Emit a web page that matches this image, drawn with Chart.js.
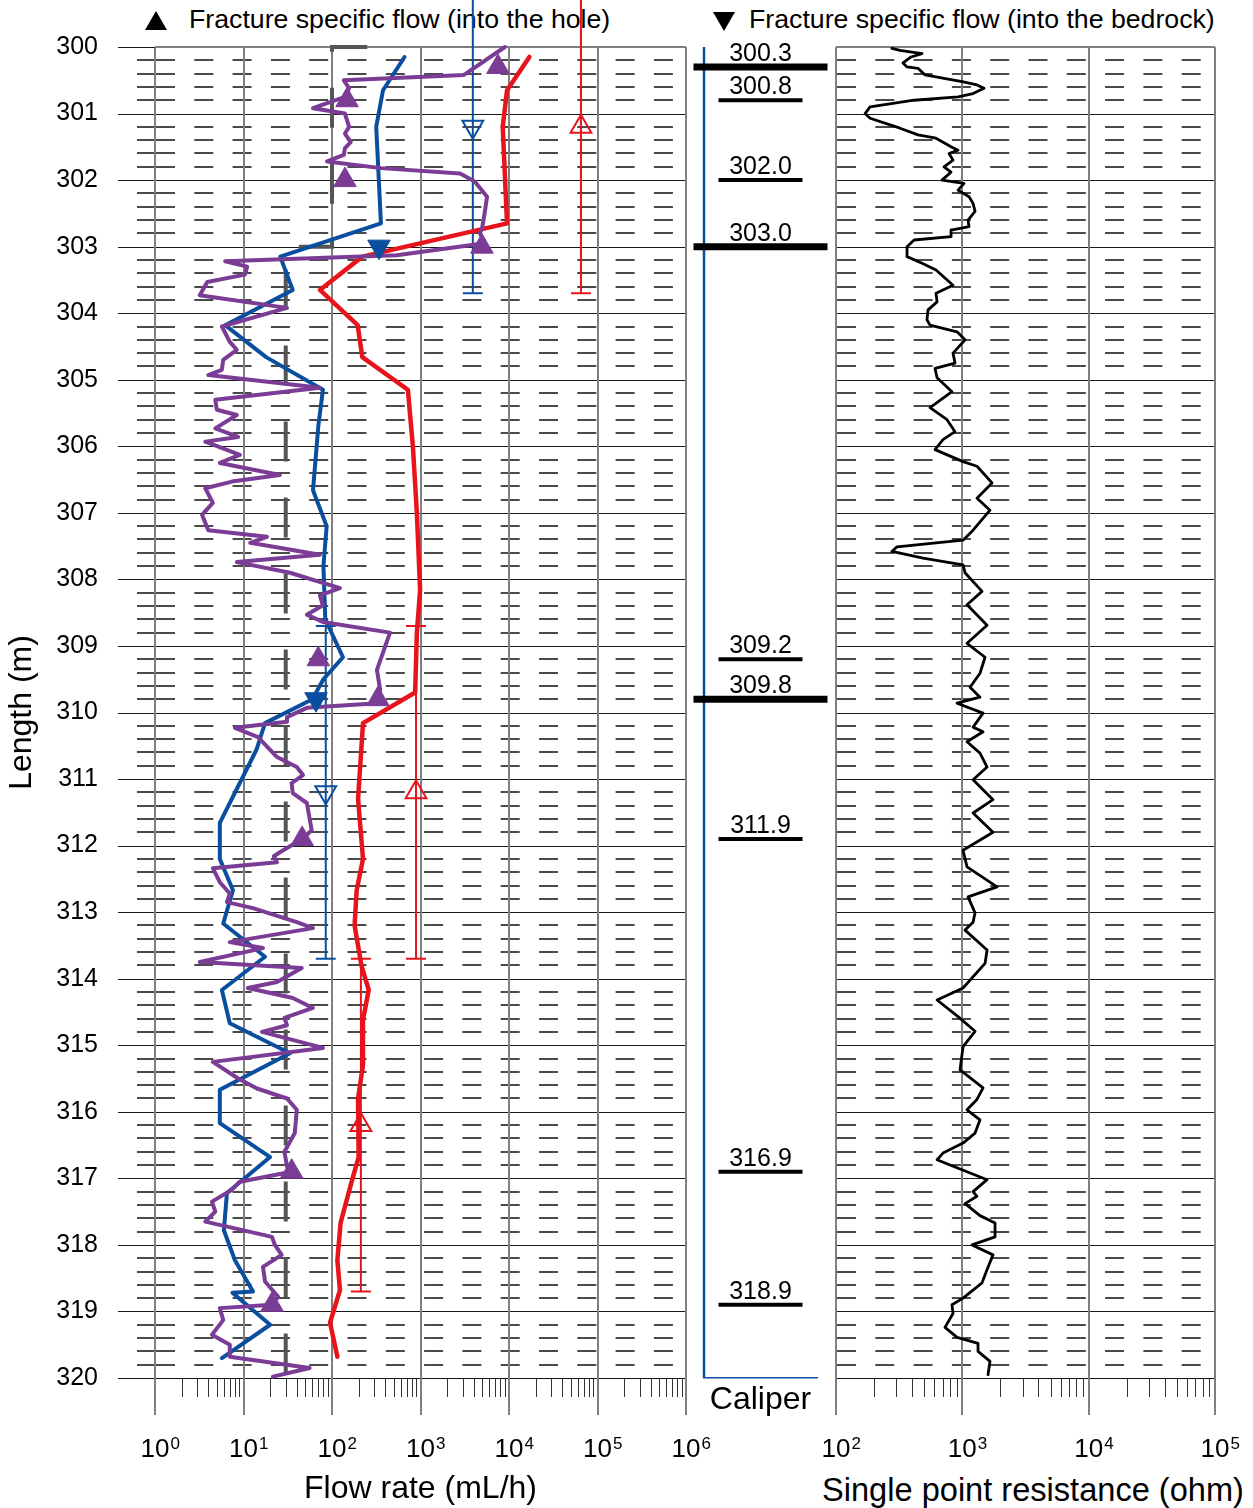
<!DOCTYPE html>
<html>
<head>
<meta charset="utf-8">
<script src="https://cdn.jsdelivr.net/npm/chart.js@4.4.1/dist/chart.umd.min.js"></script>
<style>
  body { margin: 0; background: #fff; font-family: "Liberation Sans", Arial, sans-serif; }
  #page { position: relative; width: 1253px; height: 1508px; overflow: hidden; background: #fff; }
  #page canvas { position: absolute; left: 0; top: 0; }
  .key { position: absolute; top: 3px; font-size: 26.7px; line-height: 32px; color: #000; white-space: nowrap; }
  .axisTitle { position: absolute; font-size: 32.6px; line-height: 38px; color: #000; white-space: nowrap; text-align: center; }
  .tri { position: absolute; width: 0; height: 0; border-left: 11px solid transparent; border-right: 11px solid transparent; }
  .up { border-bottom: 19px solid #000; }
  .down { border-top: 19px solid #000; }
</style>
</head>
<body>
<div id="page">
  <div class="tri up" style="left:145px; top:11px;"></div>
  <div class="key" style="left:189px;">Fracture specific flow (into the hole)</div>
  <div class="tri down" style="left:713px; top:12px;"></div>
  <div class="key" style="left:749px;">Fracture specific flow (into the bedrock)</div>
  <div class="axisTitle" style="left:813px; width:440px; top:1471px;">Single point resistance (ohm)</div>
  <canvas id="flowChart" width="1253" height="1508"></canvas>
  <canvas id="caliperChart" width="1253" height="1508"></canvas>
  <canvas id="sprChart" width="1253" height="1508"></canvas>
</div>
<script>
Chart.defaults.font.family = '"Liberation Sans", Arial, sans-serif';
Chart.defaults.color = '#000';

var depthMin = 300, depthMax = 320;

// flow rate, red line (mL/h)
var redDepth = [300.15, 300.65, 301.2, 302.65, 303.15, 303.65, 304.18, 304.66, 305.15, 306.0, 307.0, 308.16, 308.8, 309.7,
  310.16, 311.3, 312.2, 312.67, 313.2, 313.8, 314.17, 314.62, 315.3, 315.8, 316.68, 317.07, 317.67, 318.23, 318.68, 319.17, 319.68];
var redFlow = [17000, 9500, 8500, 9500, 220, 73, 195, 220, 720, 820, 910, 990, 910, 870,
  224, 197, 224, 190, 180, 215, 260, 224, 224, 197, 200, 165, 125, 115, 123, 95, 115];

// flow rate, blue line (mL/h)
var blueDepth = [300.15, 300.65, 301.2, 302.65, 303.15, 303.65, 304.18, 304.66, 305.15, 305.7, 306.66, 307.2, 307.8, 308.6,
  309.17, 309.5, 309.8, 310.16, 310.56, 311.66, 312.2, 312.67, 313.17, 313.67, 314.17, 314.67, 315.12, 315.67, 316.17,
  316.68, 317.22, 317.78, 318.23, 318.7, 318.72, 319.2, 319.7];
var blueFlow = [660, 377, 316, 357, 26, 36, 6.2, 18, 79, 70, 61, 87, 80, 84,
  133, 80, 60, 17.5, 14, 5.4, 5.4, 7.6, 5.9, 17.5, 5.7, 7, 33.5, 5.4, 5.4,
  20, 6.5, 6, 8, 12.8, 7.5, 20, 5.7];

// flow rate, purple line (mL/h)
var purpleDepth = [300.0, 300.42, 300.5, 300.62, 300.75, 300.92, 301.0, 301.2, 301.3, 301.43, 301.52, 301.62, 301.72, 301.82,
  301.9, 302.02, 302.25, 302.5, 302.7, 302.8, 302.95, 303.13, 303.22, 303.3, 303.42, 303.53, 303.73, 303.92, 304.2,
  304.43, 304.55, 304.7, 304.85, 304.93, 305.12, 305.3, 305.45, 305.53, 305.73, 305.86, 305.93, 306.13, 306.25, 306.43,
  306.53, 306.63, 306.85, 307.03, 307.26, 307.36, 307.45, 307.63, 307.74, 307.9, 308.13, 308.24, 308.39, 308.53, 308.64,
  308.8, 309.1, 309.36, 309.66, 309.86, 309.93, 310.07, 310.14, 310.23, 310.37, 310.67, 310.82, 310.94, 311.06, 311.21,
  311.36, 311.77, 311.9, 312.1, 312.16, 312.25, 312.34, 312.55, 312.72, 312.85, 312.94, 313.15, 313.24, 313.45, 313.54,
  313.75, 313.84, 314.05, 314.14, 314.29, 314.44, 314.59, 314.7, 314.8, 315.04, 315.25, 315.5, 315.65, 315.8, 315.97,
  316.32, 316.6, 316.82, 316.9, 317.05, 317.17, 317.35, 317.5, 317.65, 317.88, 318.0, 318.15, 318.33, 318.55, 318.78,
  318.9, 318.95, 319.13, 319.35, 319.5, 319.68, 319.85, 319.98];
var purpleFlow = [9000, 3100, 136, 156, 140, 61, 140, 156, 140, 163, 140, 136, 88, 357,
  2800, 4100, 5650, 5300, 5000, 4700, 5300, 540, 6.2, 11, 10.4, 3.9, 3.2, 31, 5.7,
  7, 8.4, 5.9, 5.7, 4, 73, 4.8, 5, 8.4, 4.8, 8.7, 3.7, 9.1, 5.4, 25.8,
  7.4, 3.7, 4.5, 3.4, 4, 18.4, 11.9, 73, 8.4, 33.5, 123, 73, 79, 52, 79,
  452, 377, 322, 350, 330, 52, 31, 31, 8, 14.6, 23.9, 40, 47, 35, 36,
  52, 59, 46, 25.8, 22, 23.9, 4.5, 5.4, 7, 6.5, 12.8, 40, 61, 7, 16.6,
  3.2, 45.5, 23.9, 11.2, 36, 61, 29, 31, 16.2, 79, 4.5, 8.7, 14.2, 31, 40,
  38, 29, 31, 35, 9.1, 7.4, 4.4, 4.8, 3.7, 21, 22.6, 27, 16.6, 17.5, 24.6,
  21, 5.4, 5.9, 4.4, 7, 7, 56, 21.5];

// fracture specific flow (mL/h)
var intoHoleDepth = [300.3, 300.8, 302.0, 303.0, 309.2, 309.8, 311.9, 316.9, 318.9];
var intoHoleFlow = [7500, 148, 140, 4950, 70, 330, 46, 35, 21];
var intoBedrockDepth = [303.0, 309.8];
var intoBedrockFlow = [340, 66];

// lower measurement limit (mL/h)
var limitDepth = [300, 300, 303, 303, 320];
var limitFlow = [250, 100, 100, 30, 30];

// section measurements: interval, centre and flow
var sectionTop = [298.7, 308.7, 313.7];
var sectionBottom = [303.7, 313.7, 318.7];
var sectionMid = [301.2, 311.2, 316.2];
var sectionHoleFlow = [65000, 890, 212];
var sectionBedrockFlow = [3900, 85, null];

// fractures marked in the caliper column
var majorFractures = [300.3, 303.0, 309.8];
var minorFractures = [300.8, 302.0, 309.2, 311.9, 316.9, 318.9];
var caliperDepth = [300, 320];
var caliperValue = [0, 0];

// single point resistance (ohm)
var sprDepth = [300.02, 300.05, 300.1, 300.15, 300.24, 300.3, 300.32, 300.42, 300.47, 300.52, 300.57, 300.62, 300.7,
  300.75, 300.8, 300.9, 301.0, 301.07, 301.22, 301.32, 301.37, 301.5, 301.55, 301.6, 301.7, 301.8, 301.88, 302.0,
  302.05, 302.15, 302.25, 302.35, 302.47, 302.6, 302.7, 302.75, 302.85, 302.9, 303.0, 303.15, 303.25, 303.35, 303.58,
  303.7, 303.83, 303.95, 304.1, 304.18, 304.28, 304.4, 304.6, 304.75, 304.83, 304.97, 305.18, 305.42, 305.6, 305.78,
  305.9, 306.05, 306.23, 306.3, 306.55, 306.78, 306.96, 307.26, 307.41, 307.51, 307.58, 307.68, 307.78, 307.9, 308.18,
  308.38, 308.69, 308.96, 309.17, 309.41, 309.62, 309.77, 309.86, 310.01, 310.22, 310.29, 310.44, 310.61, 310.82,
  311.01, 311.31, 311.51, 311.8, 312.07, 312.32, 312.62, 312.77, 313.01, 313.15, 313.27, 313.57, 313.77, 314.14,
  314.32, 314.57, 314.79, 315.02, 315.37, 315.64, 315.82, 315.97, 316.12, 316.32, 316.47, 316.62, 316.72, 316.8,
  317.02, 317.2, 317.27, 317.38, 317.56, 317.67, 317.88, 318.0, 318.15, 318.37, 318.57, 318.8, 318.9, 319.03, 319.24,
  319.39, 319.48, 319.6, 319.75, 319.95];
var sprOhm = [277, 321, 480, 393, 339, 365, 446, 507, 716, 995, 1306, 1486, 1216,
  925, 415, 186, 170, 186, 321, 446, 619, 814, 925, 785, 844, 716, 814, 690,
  1031, 925, 1130, 1216, 1261, 1109, 1130, 814, 814, 415, 365, 365, 480, 619, 844,
  619, 631, 535, 525, 555, 908, 1050, 844, 875, 608, 631, 828, 555, 757, 875,
  703, 608, 1013, 1306, 1718, 1306, 1656, 1216, 1013, 304, 277, 489, 1013, 1050, 1432,
  1089, 1570, 1089, 1513, 1380, 1151, 1380, 908, 1459, 1216, 1459, 1089, 1380, 1570,
  1216, 1750, 1216, 1750, 1013, 1089, 1883, 1109, 1261, 1216, 1050, 1570, 1513, 1013,
  631, 925, 1261, 1013, 959, 1459, 1300, 1089, 1380, 1261, 1013, 703, 631, 799,
  1570, 1216, 1306, 1050, 1380, 1815, 1815, 1194, 1750, 1570, 1432, 1013, 828, 844, 729,
  908, 1331, 1331, 1656, 1597];

var RED = '#e8141b', BLUE = '#0a4f9f', PURPLE = '#7b3c96', LIMIT = '#555555';
var TICK_FONT = 26, TICK_GAP = 56;

function pts(depths, values) {
  return depths.map(function(d, i) { return { x: values[i], y: d }; });
}

function decadeOf(value) {
  var l = Math.log10(value);
  var e = Math.round(l);
  return Math.abs(l - e) < 1e-6 ? e : null;
}

// axis labels show the "10", the exponent is added by exponentLabels
function powerLabel(value) {
  return decadeOf(value) === null ? '' : '10';
}

function profileLine(depths, values, color, width) {
  return {
    data: pts(depths, values), showLine: true, borderColor: color, borderWidth: width,
    pointRadius: 0, tension: 0, borderJoinStyle: 'round', borderCapStyle: 'round', clip: false
  };
}

function triangles(depths, values, color, rotation, filled, r) {
  return {
    data: pts(depths, values), showLine: false, pointStyle: 'triangle', pointRadius: r,
    pointRotation: rotation, backgroundColor: filled ? color : 'rgba(0,0,0,0)',
    borderColor: color, pointBorderWidth: filled ? 1 : 2, clip: false
  };
}

function rangeBar(i, values, color) {
  return {
    data: [{ x: values[i], y: sectionTop[i] }, { x: values[i], y: sectionBottom[i] }],
    showLine: true, borderColor: color, borderWidth: 2, pointStyle: 'line', pointRadius: 10,
    pointBorderWidth: 2, pointBorderColor: color, clip: false
  };
}

// paper style grid: 0.2 m dashes, 1 m lines, decade lines and log ticks
function paperGrid(leftTicks) {
  return {
    id: 'paperGrid',
    beforeDatasetsDraw: function(chart) {
      var ctx = chart.ctx, a = chart.chartArea;
      var xs = chart.scales.x, ys = chart.scales.y;
      function seg(x1, y1, x2, y2) { ctx.beginPath(); ctx.moveTo(x1, y1); ctx.lineTo(x2, y2); ctx.stroke(); }
      ctx.save();
      ctx.strokeStyle = '#4a4a4a';
      ctx.lineWidth = 2;
      for (var i = 1; i < (depthMax - depthMin) * 5; i++) {
        if (i % 5 === 0) continue;
        var y = Math.round(ys.getPixelForValue(depthMin + i * 0.2));
        ctx.setLineDash([]);
        if (leftTicks) seg(a.left - 18, y, a.left, y);
        ctx.setLineDash([19, 19.3]);
        seg(a.left + 1, y, a.right - 6, y);
      }
      ctx.setLineDash([]);
      ctx.strokeStyle = '#1a1a1a';
      ctx.lineWidth = 1;
      for (var d = depthMin + 1; d < depthMax; d++) {
        var yy = Math.round(ys.getPixelForValue(d)) + 0.5;
        seg(leftTicks ? a.left - 37 : a.left, yy, a.right, yy);
      }
      var e0 = Math.round(Math.log10(xs.min)), e1 = Math.round(Math.log10(xs.max));
      ctx.strokeStyle = '#333';
      ctx.lineWidth = 1;
      for (var e = e0; e < e1; e++) {
        for (var m = 2; m <= 9; m++) {
          var xm = Math.round(xs.getPixelForValue(m * Math.pow(10, e))) + 0.5;
          seg(xm, a.bottom, xm, a.bottom + 19);
        }
      }
      ctx.strokeStyle = '#111';
      seg(leftTicks ? a.left - 37 : a.left, Math.round(a.bottom) + 0.5, a.right, Math.round(a.bottom) + 0.5);
      ctx.strokeStyle = '#7f7f7f';
      ctx.lineWidth = 2;
      seg(a.left, Math.round(a.top), a.right, Math.round(a.top));
      for (var k = e0; k <= e1; k++) {
        var xd = Math.round(xs.getPixelForValue(Math.pow(10, k)));
        seg(xd, a.top, xd, a.bottom + 37);
      }
      if (leftTicks) {
        ctx.strokeStyle = '#1a1a1a';
        ctx.lineWidth = 1;
        seg(a.left - 37, Math.round(a.top) + 0.5, a.left, Math.round(a.top) + 0.5);
      }
      ctx.restore();
    }
  };
}

// superscript exponents next to each "10" tick label
var exponentLabels = {
  id: 'exponentLabels',
  afterDraw: function(chart) {
    var xs = chart.scales.x, ctx = chart.ctx;
    ctx.save();
    ctx.font = TICK_FONT + 'px "Liberation Sans", Arial, sans-serif';
    var half = ctx.measureText('10').width / 2;
    var centreY = xs.top + TICK_GAP + TICK_FONT * 0.6;
    ctx.font = '17px "Liberation Sans", Arial, sans-serif';
    ctx.fillStyle = '#000';
    ctx.textAlign = 'left';
    ctx.textBaseline = 'alphabetic';
    xs.ticks.forEach(function(t) {
      var e = decadeOf(t.value);
      if (e === null) return;
      ctx.fillText(String(e), xs.getPixelForValue(t.value) + half + 1, centreY - 1);
    });
    ctx.restore();
  }
};

var fractureLabels = {
  id: 'fractureLabels',
  afterDatasetsDraw: function(chart) {
    var ctx = chart.ctx;
    ctx.save();
    ctx.font = '25px "Liberation Sans", Arial, sans-serif';
    ctx.fillStyle = '#000';
    ctx.textAlign = 'center';
    ctx.textBaseline = 'alphabetic';
    chart.data.datasets.forEach(function(ds, di) {
      if (!ds.fractureLabels) return;
      chart.getDatasetMeta(di).data.forEach(function(el, i) {
        ctx.fillText(ds.data[i].y.toFixed(1), el.x, el.y - 6);
      });
    });
    ctx.restore();
  }
};

var commonOptions = {
  responsive: false,
  animation: false,
  events: [],
  plugins: { legend: { display: false }, tooltip: { enabled: false } }
};

// bottom log axis: tick marks are drawn by paperGrid, tickLength only spaces the labels
function logAxis(min, max, title) {
  return {
    type: 'logarithmic', min: min, max: max, position: 'bottom',
    grid: { display: false, drawTicks: true, tickLength: TICK_GAP - 7 }, border: { display: false },
    ticks: { autoSkip: false, maxRotation: 0, minRotation: 0, padding: 7, font: { size: TICK_FONT }, callback: powerLabel },
    title: { display: !!title, text: title, font: { size: 32 }, padding: { top: 0, bottom: 0 } },
    afterFit: function(sc) { sc.height = 130; }
  };
}

// left panel: flow rate
var flowSets = [
  triangles(intoHoleDepth, intoHoleFlow, PURPLE, 0, true, 13),
  triangles(intoBedrockDepth, intoBedrockFlow, BLUE, 180, true, 13),
  profileLine(purpleDepth, purpleFlow, PURPLE, 4),
  profileLine(blueDepth, blueFlow, BLUE, 4),
  profileLine(redDepth, redFlow, RED, 4.5),
  triangles(sectionMid.slice(0, 2), sectionBedrockFlow.slice(0, 2), BLUE, 180, false, 12),
  triangles(sectionMid, sectionHoleFlow, RED, 0, false, 12)
];
for (var s = 0; s < sectionTop.length; s++) {
  flowSets.push(rangeBar(s, sectionHoleFlow, RED));
  if (sectionBedrockFlow[s] !== null) flowSets.push(rangeBar(s, sectionBedrockFlow, BLUE));
}
var limitSet = profileLine(limitDepth, limitFlow, LIMIT, 4);
limitSet.borderDash = [40, 36];
limitSet.borderCapStyle = 'butt';
limitSet.borderJoinStyle = 'miter';
flowSets.push(limitSet);

new Chart(document.getElementById('flowChart'), {
  type: 'scatter',
  data: { datasets: flowSets },
  options: Object.assign({}, commonOptions, {
    layout: { autoPadding: false, padding: { left: 0, right: 567, top: 47, bottom: 0 } },
    scales: {
      x: logAxis(1, 1e6, 'Flow rate (mL/h)'),
      y: {
        type: 'linear', min: depthMin, max: depthMax, reverse: true,
        grid: { display: false, drawTicks: true, tickLength: 50 }, border: { display: false },
        ticks: { stepSize: 1, padding: 7, font: { size: 25 } },
        title: { display: true, text: 'Length (m)', font: { size: 32 }, padding: { top: 3, bottom: 0 } },
        afterFit: function(sc) { sc.width = 155; }
      }
    }
  }),
  plugins: [paperGrid(true), exponentLabels]
});

// middle panel: caliper and fracture marks
new Chart(document.getElementById('caliperChart'), {
  type: 'scatter',
  data: {
    datasets: [
      {
        data: majorFractures.map(function(d) { return { x: 0.5, y: d }; }), fractureLabels: true,
        pointStyle: 'line', pointRadius: 67, pointBorderWidth: 7, borderColor: '#000', clip: false
      },
      {
        data: minorFractures.map(function(d) { return { x: 0.5, y: d }; }), fractureLabels: true,
        pointStyle: 'line', pointRadius: 42, pointBorderWidth: 4, borderColor: '#000', clip: false
      },
      {
        data: pts(caliperDepth, caliperValue), showLine: true, borderColor: BLUE, borderWidth: 2.5,
        pointRadius: 0, clip: false
      }
    ]
  },
  options: Object.assign({}, commonOptions, {
    layout: { autoPadding: false, padding: { left: 704, right: 436, top: 47, bottom: 0 } },
    scales: {
      x: {
        type: 'linear', min: 0, max: 1, position: 'bottom',
        grid: { display: true, color: 'rgba(0,0,0,0)', drawTicks: false },
        border: { display: true, color: BLUE, width: 1.5 },
        ticks: { display: false },
        title: { display: true, text: 'Caliper', font: { size: 32 }, padding: { top: 0, bottom: 89 } },
        afterFit: function(sc) { sc.height = 130; }
      },
      y: { type: 'linear', min: depthMin, max: depthMax, reverse: true, display: false }
    }
  }),
  plugins: [fractureLabels]
});

// right panel: single point resistance (title is the html label below the axis)
new Chart(document.getElementById('sprChart'), {
  type: 'scatter',
  data: { datasets: [profileLine(sprDepth, sprOhm, '#000', 2.8)] },
  options: Object.assign({}, commonOptions, {
    layout: { autoPadding: false, padding: { left: 836, right: 38, top: 47, bottom: 0 } },
    scales: {
      x: logAxis(100, 1e5, ''),
      y: { type: 'linear', min: depthMin, max: depthMax, reverse: true, display: false }
    }
  }),
  plugins: [paperGrid(false), exponentLabels]
});
</script>
</body>
</html>
